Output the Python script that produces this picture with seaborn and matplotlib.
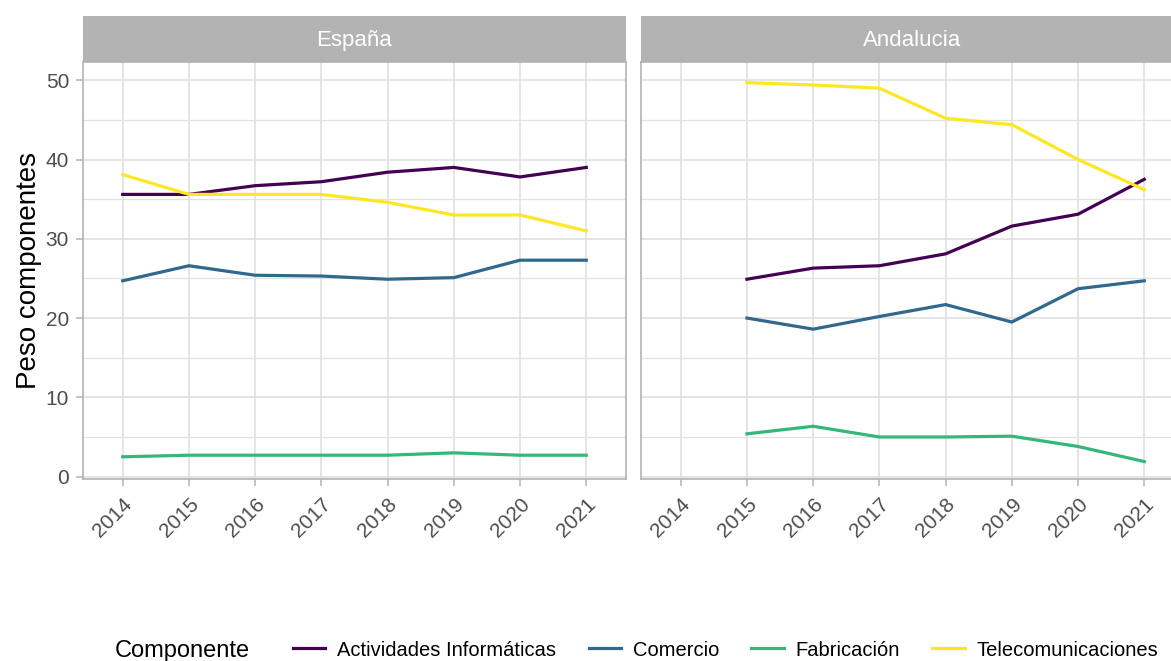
import pandas as pd
import seaborn as sns
import matplotlib.pyplot as plt
from matplotlib.lines import Line2D

# Datos
anios = [2014, 2015, 2016, 2017, 2018, 2019, 2020, 2021]
anios_and = [2015, 2016, 2017, 2018, 2019, 2020, 2021]
componentes = ['Actividades Informáticas', 'Comercio', 'Fabricación', 'Telecomunicaciones']

esp_informatica = [35.6, 35.6, 36.7, 37.2, 38.4, 39.0, 37.8, 39.0]
esp_comercio = [24.7, 26.6, 25.4, 25.3, 24.9, 25.1, 27.3, 27.3]
esp_fabricacion = [2.5, 2.7, 2.7, 2.7, 2.7, 3.0, 2.7, 2.7]
esp_telecom = [38.1, 35.6, 35.6, 35.6, 34.6, 33.0, 33.0, 31.0]

and_informatica = [24.9, 26.3, 26.6, 28.1, 31.6, 33.1, 37.5]
and_comercio = [20.0, 18.6, 20.2, 21.7, 19.5, 23.7, 24.7]
and_fabricacion = [5.4, 6.35, 5.0, 5.0, 5.1, 3.8, 1.9]
and_telecom = [49.7, 49.4, 49.0, 45.2, 44.4, 40.0, 36.2]

colores = ['#440154', '#31688E', '#35B779', '#FDE725']

def tabla(region, years, series):
    filas = []
    for comp, vals in zip(componentes, series):
        for a, v in zip(years, vals):
            filas.append({'region': region, 'anio': a, 'Componente': comp, 'peso': v})
    return filas

datos = pd.DataFrame(
    tabla('España', anios, [esp_informatica, esp_comercio, esp_fabricacion, esp_telecom]) +
    tabla('Andalucia', anios_and, [and_informatica, and_comercio, and_fabricacion, and_telecom])
)

plt.rcParams['font.family'] = ['Liberation Sans', 'DejaVu Sans']

W, H = 1171, 661
fig = plt.figure(figsize=(W / 100, H / 100), dpi=100)

paneles = [('España', 83, 543), ('Andalucia', 641, 543)]
top, bottom, strip_top = 62, 479, 16

for i, (region, x0, w) in enumerate(paneles):
    ax = fig.add_axes([x0 / W, 1 - bottom / H, w / W, (bottom - top) / H])
    sub = datos[datos['region'] == region]
    sns.lineplot(data=sub, x='anio', y='peso', hue='Componente', hue_order=componentes,
                 palette=colores, linewidth=2.3, legend=False, ax=ax)
    ax.set_xlim(2013.4, 2021.6)
    ax.set_ylim(-0.3, 52.3)
    ax.set_xticks(anios)
    ax.set_xticklabels([str(a) for a in anios], rotation=45, ha='right', va='top',
                       rotation_mode='anchor')
    ax.set_yticks([0, 10, 20, 30, 40, 50])
    ax.set_yticks([5, 15, 25, 35, 45], minor=True)
    ax.grid(True, which='major', color='#DEDEDE', linewidth=1.1)
    ax.grid(True, which='minor', axis='y', color='#E2E2E2', linewidth=0.9)
    ax.set_axisbelow(True)
    for s in ax.spines.values():
        s.set_color('#B3B3B3')
        s.set_linewidth(1.2)
    ax.tick_params(axis='x', colors='#B3B3B3', labelcolor='#4D4D4D', labelsize=15,
                   length=5, width=1.1, pad=6)
    ax.tick_params(axis='y', which='major', colors='#B3B3B3', labelcolor='#4D4D4D',
                   labelsize=15, length=5, width=1.1, pad=5)
    ax.tick_params(axis='y', which='minor', length=0)
    ax.set_xlabel('')
    if i == 0:
        ax.set_ylabel('Peso componentes', fontsize=20, color='black', labelpad=3)
    else:
        ax.set_ylabel('')
        ax.tick_params(axis='y', which='both', labelleft=False, length=0)

    # franja del facet
    sax = fig.add_axes([x0 / W, 1 - top / H, w / W, (top - strip_top) / H])
    sax.set_facecolor('#B3B3B3')
    sax.set_xticks([])
    sax.set_yticks([])
    for s in sax.spines.values():
        s.set_visible(False)
    sax.text(0.5, 0.47, region, color='white', fontsize=16, ha='center', va='center',
             transform=sax.transAxes)

# leyenda inferior
fig.text(115 / W, 1 - 651 / H, 'Componente', fontsize=17, ha='left', va='center')
handles = [Line2D([0], [0], color=c, linewidth=2.3) for c in colores]
fig.legend(handles, componentes, loc='center left', bbox_to_anchor=(285 / W, 1 - 650 / H),
           ncol=4, frameon=False, handlelength=1.6, handletextpad=0.6,
           columnspacing=1.6, borderaxespad=0,
           prop={'size': 14.5})

fig.savefig('out.png', dpi=100)
